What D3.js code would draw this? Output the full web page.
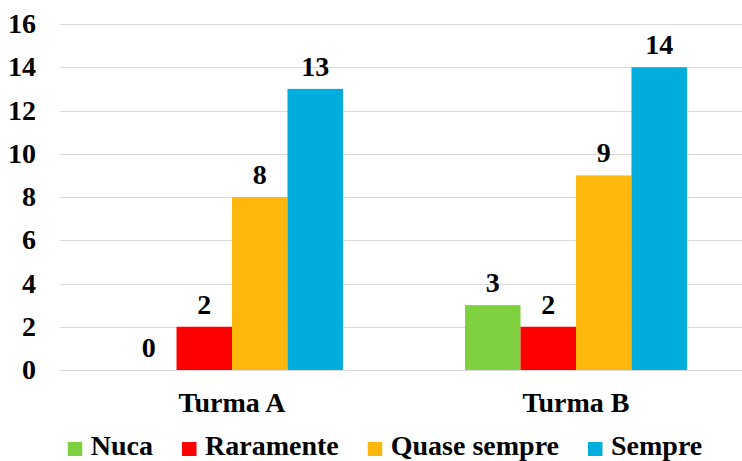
<!DOCTYPE html>
<html>
<head>
<meta charset="utf-8">
<script src="https://cdn.jsdelivr.net/npm/d3@7"></script>
<style>
  body { margin: 0; background: #fff; }
  text { font-family: 'Times New Roman'; font-weight: bold; font-size: 28px; }
</style>
</head>
<body>
<div id="container"></div>
<script>
/* CONSTANTS AND GLOBALS */
const width = 742,
  height = 461;

const margin = { top: 24, right: -6, bottom: 91, left: 60 };

/* DATA */
const groups = ["Turma A", "Turma B"];
const series = ["Nuca", "Raramente", "Quase sempre", "Sempre"];
const colors = ["#7ED03E", "#FF0000", "#FEB70D", "#00ADDC"];
const valuesA = [0, 2, 8, 13];
const valuesB = [3, 2, 9, 14];
const yTicks = [0, 2, 4, 6, 8, 10, 12, 14, 16];

const values = { "Turma A": valuesA, "Turma B": valuesB };

const data = groups.flatMap(g => series.map((s, i) => ({ group: g, series: s, value: values[g][i] })));

// SCALES
const xScale = d3.scaleBand()
  .domain(groups)
  .range([margin.left, width - margin.right])
  .padding(0);

const x1 = d3.scaleBand()
  .domain(series)
  .range([0, xScale.bandwidth()])
  .paddingInner(0)
  .paddingOuter(1.1);

const yScale = d3.scaleLinear()
  .domain([0, 16])
  .range([height - margin.bottom, margin.top]);

const color = d3.scaleOrdinal().domain(series).range(colors);

// CREATE SVG ELEMENT
const svg = d3.select("#container")
  .append("svg")
  .attr("width", width)
  .attr("height", height)
  .attr("font-family", "Times New Roman")
  .attr("font-weight", "bold")
  .attr("font-size", 28);

// GRIDLINES
svg.append("g")
  .selectAll("line")
  .data(yTicks)
  .join("line")
  .attr("x1", margin.left)
  .attr("x2", width)
  .attr("y1", d => Math.round(yScale(d)) + 0.5)
  .attr("y2", d => Math.round(yScale(d)) + 0.5)
  .attr("stroke", "#D9D9D9")
  .attr("stroke-width", 1);

// Y AXIS LABELS
svg.append("g")
  .selectAll("text")
  .data(yTicks)
  .join("text")
  .attr("x", 36)
  .attr("y", d => yScale(d) + 9)
  .attr("text-anchor", "end")
  .text(d => d);

// BARS
svg.append("g")
  .selectAll("rect")
  .data(data)
  .join("rect")
  .attr("x", d => xScale(d.group) + x1(d.series))
  .attr("y", d => yScale(d.value))
  .attr("width", x1.bandwidth())
  .attr("height", d => yScale(0) - yScale(d.value))
  .attr("fill", d => color(d.series));

// DATA LABELS
svg.append("g")
  .selectAll("text")
  .data(data)
  .join("text")
  .attr("x", d => xScale(d.group) + x1(d.series) + x1.bandwidth() / 2)
  .attr("y", d => yScale(d.value) - 13)
  .attr("text-anchor", "middle")
  .text(d => d.value);

// X AXIS LABELS
svg.append("g")
  .selectAll("text")
  .data(groups)
  .join("text")
  .attr("x", d => xScale(d) + xScale.bandwidth() / 2)
  .attr("y", 412)
  .attr("text-anchor", "middle")
  .text(d => d);

// LEGEND
const legend = svg.append("g");
const items = legend.selectAll("g")
  .data(series)
  .join("g");

items.append("rect")
  .attr("width", 14.5)
  .attr("height", 14)
  .attr("y", 442)
  .attr("fill", d => color(d));

items.append("text")
  .attr("x", 23)
  .attr("y", 455)
  .text(d => d);

let xpos = 0;
const offsets = [];
items.each(function () {
  offsets.push(xpos);
  xpos += this.getBBox().width + 29;
});
const totalW = xpos - 29;
const startX = 385 - totalW / 2;
items.attr("transform", (d, i) => `translate(${startX + offsets[i]},0)`);
</script>
</body>
</html>
